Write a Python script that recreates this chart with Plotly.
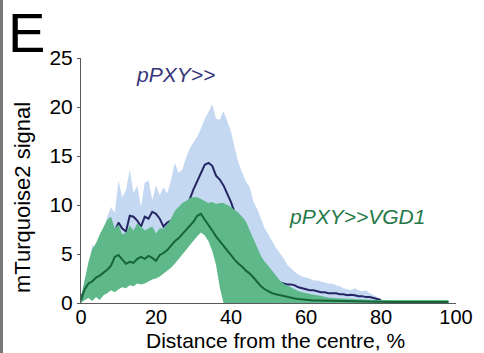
import plotly.graph_objects as go

# Radial profile of mTurquoise2 signal (mean with spread band)
# pPXY>> : x = 0..80 %
blue_x = list(range(0, 81))
blue_mean = [0.5, 1.5, 2.5, 3.2, 3.8, 4.3, 5.0, 5.8, 6.5, 7.3,
             8.2, 7.6, 7.3, 8.9, 8.8, 8.4, 7.8, 8.8, 8.6, 9.3,
             9.1, 8.6, 7.8, 8.2, 8.4, 8.6, 9.0, 9.3, 9.8, 10.6,
             11.6, 12.4, 13.3, 14.1, 14.3, 14.0, 13.0, 12.6, 12.0, 11.2,
             10.3, 9.2, 8.2, 7.5, 6.8, 6.0, 5.2, 4.5, 3.8, 3.3,
             2.9, 2.6, 2.3, 2.1, 2.0, 1.9, 1.9, 1.8, 1.6, 1.5,
             1.4, 1.3, 1.3, 1.2, 1.1, 1.1, 1.0, 1.0, 1.0, 0.9,
             0.9, 0.8, 0.85, 0.8, 0.7, 0.7, 0.6, 0.6, 0.5, 0.4,
             0.3]
blue_upper = [0.6, 2.5, 3.6, 6.0, 5.2, 7.0, 7.5, 8.8, 9.8, 9.2,
              12.5, 10.8, 11.5, 13.6, 11.2, 12.0, 9.8, 12.3, 12.5, 10.5,
              12.0, 11.0, 11.8, 11.2, 12.5, 14.3, 13.3, 13.6, 14.8, 15.8,
              16.4, 17.0, 17.8, 18.8, 19.5, 20.3, 18.8, 18.7, 19.6, 18.5,
              17.5, 15.8, 14.3, 13.3, 12.4, 11.8, 10.3, 9.6, 8.6, 7.6,
              7.0, 6.3, 5.6, 5.1, 4.6, 3.9, 3.5, 3.2, 2.9, 2.7,
              2.6, 2.5, 2.3, 2.3, 2.2, 2.1, 2.0, 2.0, 1.8, 1.7,
              1.5, 1.4, 1.3, 1.5, 1.3, 1.2, 1.3, 1.0, 0.8, 0.6,
              0.3]
blue_lower = [0.2, 0.5, 0.8, 1.0, 1.3, 1.5, 1.8, 2.2, 2.6, 3.2,
              3.5, 3.3, 3.8, 4.0, 4.2, 4.0, 4.3, 4.5, 4.7, 4.9,
              4.8, 4.5, 4.6, 4.9, 5.0, 5.2, 5.5, 5.8, 6.2, 6.8,
              7.3, 7.6, 8.2, 8.6, 8.4, 7.6, 6.9, 6.3, 5.7, 5.0,
              4.3, 3.6, 3.0, 2.5, 2.1, 1.7, 1.4, 1.2, 1.0, 0.9,
              0.8, 0.7, 0.6, 0.6, 0.6, 0.5, 0.5, 0.5, 0.5, 0.4,
              0.4, 0.4, 0.4, 0.4, 0.3, 0.3, 0.3, 0.3, 0.3, 0.3,
              0.3, 0.3, 0.3, 0.2, 0.2, 0.2, 0.2, 0.2, 0.2, 0.2,
              0.2]

# pPXY>>VGD1 : x = 0..98 %
green_x = list(range(0, 99))
green_mean = [0.3, 1.4, 2.0, 2.2, 2.6, 2.8, 3.1, 3.4, 3.8, 4.7,
              4.9, 4.4, 4.0, 4.2, 4.1, 4.5, 4.7, 4.5, 4.8, 4.6,
              4.3, 4.9, 5.1, 5.4, 5.9, 6.3, 6.6, 7.0, 7.4, 7.8,
              8.3, 8.9, 9.1, 8.5, 8.0, 7.4, 6.8, 6.3, 5.8, 5.3,
              4.9, 4.4, 4.0, 3.7, 3.3, 3.0, 2.6, 2.1, 1.7, 1.4,
              1.2, 1.0, 0.9, 0.8, 0.7, 0.6, 0.5, 0.45, 0.4, 0.35,
              0.3, 0.28, 0.26, 0.25, 0.24, 0.22, 0.2, 0.2, 0.18, 0.17,
              0.16, 0.15, 0.14, 0.13, 0.12, 0.11, 0.1, 0.1, 0.1, 0.1,
              0.1, 0.1, 0.1, 0.1, 0.1, 0.1, 0.1, 0.1, 0.1, 0.1,
              0.1, 0.1, 0.1, 0.1, 0.1, 0.1, 0.1, 0.1, 0.1]
green_upper = [0.5, 2.5, 4.2, 5.5, 6.1, 7.0, 7.8, 8.5, 8.8, 7.6,
               8.0, 7.0, 7.2, 7.9, 7.4, 8.1, 7.8, 7.4, 7.6, 7.8,
               7.1, 7.6, 7.6, 8.0, 8.6, 9.4, 9.8, 10.2, 10.4, 10.7,
               10.8, 10.8, 10.6, 10.4, 10.2, 10.3, 10.1, 10.2, 10.2, 10.0,
               9.8, 9.5, 9.2, 8.8, 8.3, 7.4, 6.5, 5.6, 4.8, 4.2,
               3.8, 3.3, 2.8, 2.3, 2.0, 1.8, 1.6, 1.4, 1.2, 1.1,
               1.0, 0.9, 0.85, 0.8, 0.7, 0.6, 0.55, 0.5, 0.48, 0.45,
               0.4, 0.38, 0.36, 0.35, 0.34, 0.33, 0.32, 0.32, 0.3, 0.3,
               0.3, 0.3, 0.3, 0.3, 0.3, 0.3, 0.3, 0.3, 0.3, 0.3,
               0.3, 0.3, 0.3, 0.3, 0.3, 0.3, 0.3, 0.3, 0.3]
green_lower = [0.0, 0.3, 0.5, 0.2, 0.6, 0.3, 0.8, 1.0, 1.3, 1.1,
               1.4, 1.6, 1.5, 1.8, 1.7, 2.0, 1.9, 2.0, 2.2, 2.4,
               2.5, 2.7, 3.0, 3.3, 3.6, 4.0, 4.4, 4.9, 5.4, 5.9,
               6.4, 6.8, 7.2, 6.9, 6.3, 5.3, 3.9, 1.6] + [0.0] * 61

x_ticks = [0, 20, 40, 60, 80, 100]
y_ticks = [0, 5, 10, 15, 20, 25]

BLUE_BAND = "rgb(197,216,241)"
BLUE_LINE = "rgb(38,38,100)"
GREEN_BAND = "rgb(94,184,138)"
GREEN_LINE = "rgb(22,100,55)"
FONT = "Arial, Liberation Sans, sans-serif"


def band(x, lo, hi, color):
    return go.Scatter(
        x=x + x[::-1], y=hi + lo[::-1], fill="toself", fillcolor=color,
        mode="lines", line=dict(width=0), hoverinfo="skip", showlegend=False,
    )


fig = go.Figure()
fig.add_trace(band(blue_x, blue_lower, blue_upper, BLUE_BAND))
fig.add_trace(go.Scatter(x=blue_x, y=blue_mean, mode="lines",
                         line=dict(color=BLUE_LINE, width=2), showlegend=False))
fig.add_trace(band(green_x, green_lower, green_upper, GREEN_BAND))
fig.add_trace(go.Scatter(x=green_x, y=green_mean, mode="lines",
                         line=dict(color=GREEN_LINE, width=2), showlegend=False))

L, R, T, B = 81, 28, 58, 50
W, H = 484, 353
PW, PH = W - L - R, H - T - B


def px(x):
    return (x - L) / PW


def py(y):
    return (H - B - y) / PH


annotations = [
    dict(text="E", x=px(26), y=py(32), font=dict(size=56, color="black")),
    dict(text="<i>pPXY>></i>", x=25.3, y=23.3, xref="x", yref="y",
         font=dict(size=21, color="rgb(52,52,120)")),
    dict(text="<i>pPXY>>VGD1</i>", x=73.6, y=8.8, xref="x", yref="y",
         font=dict(size=21, color="rgb(36,120,72)")),
    dict(text="mTurquoise2 signal", x=px(22), y=py(198), textangle=-90,
         font=dict(size=22, color="black")),
    dict(text="Distance from the centre, %", x=px(275), y=py(340),
         font=dict(size=21, color="black")),
]
for a in annotations:
    a.setdefault("xref", "paper")
    a.setdefault("yref", "paper")
    a["showarrow"] = False
    a["xanchor"] = "center"
    a["yanchor"] = "middle"

fig.update_layout(
    width=W, height=H,
    margin=dict(l=L, r=R, t=T, b=B),
    paper_bgcolor="white", plot_bgcolor="white",
    font=dict(family=FONT, size=21, color="black"),
    annotations=annotations,
    shapes=[dict(type="rect", xref="paper", yref="paper",
                 x0=px(0), x1=px(3), y0=py(H), y1=py(0),
                 fillcolor="rgb(120,120,120)", line=dict(width=0))],
    xaxis=dict(range=[0, 100], tickvals=x_ticks, showgrid=False, zeroline=False,
               showline=True, linecolor="rgb(90,90,90)", linewidth=1,
               ticks="", ticklabelstandoff=-4, tickfont=dict(size=20)),
    yaxis=dict(range=[0, 25], tickvals=y_ticks, showgrid=False, zeroline=False,
               showline=True, linecolor="rgb(90,90,90)", linewidth=1,
               ticks="outside", ticklen=3, tickcolor="rgb(90,90,90)",
               tickfont=dict(size=21)),
)

fig.write_html("out.html")
